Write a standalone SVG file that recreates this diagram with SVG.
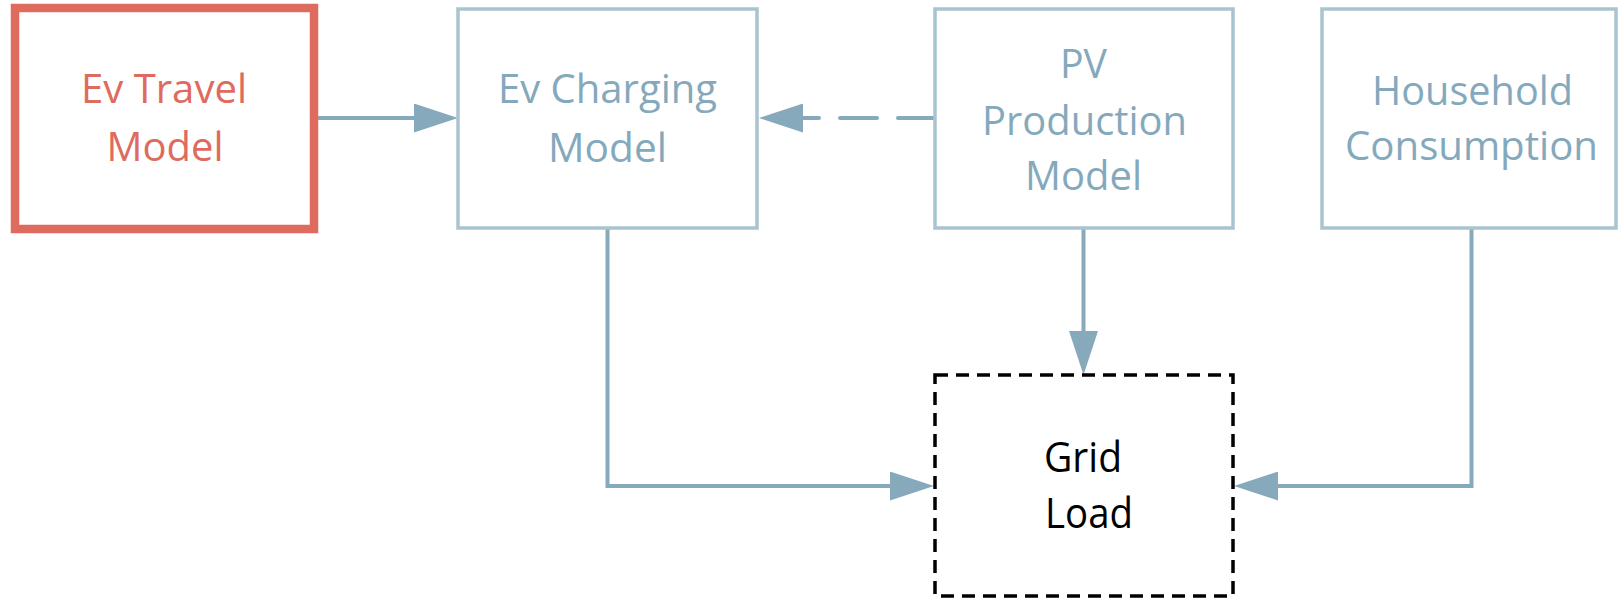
<svg xmlns="http://www.w3.org/2000/svg" width="1620" height="600" viewBox="0 0 1620 600">
  <style>
    .box { fill: #ffffff; stroke: #A9C3D0; stroke-width: 3.5; }
    .red { fill: #ffffff; stroke: #DE6B5E; stroke-width: 8.5; }
    .grid { fill: #ffffff; stroke: #000000; stroke-width: 3.5; stroke-dasharray: 13 8; }
    .t { font-family: "Open Sans", "Liberation Sans", sans-serif; font-size: 41px; fill: #85A9BC; }
    .tr { fill: #DE6B5E; }
    .tk { fill: #000000; font-size: 42px; }
    .conn { fill: none; stroke: #86AABC; stroke-width: 4; }
    .dash { stroke-dasharray: 37 21; stroke-linecap: round; }
  </style>
  <defs>
    <marker id="arrow" viewBox="0 0 44 29" refX="0" refY="14.5" markerWidth="44" markerHeight="29" markerUnits="userSpaceOnUse" orient="auto">
      <path d="M0,0 L44,14.5 L0,29 Z" fill="#86AABC"/>
    </marker>
  </defs>
  <rect width="1620" height="600" fill="#ffffff"/>

  <g id="connectors">
    <path class="conn" d="M314,118 H414" marker-end="url(#arrow)"/>
    <path class="conn dash" d="M935,118 H803" marker-end="url(#arrow)"/>
    <path class="conn" d="M607.5,229 V486 H890" marker-end="url(#arrow)"/>
    <path class="conn" d="M1083.5,229 V331" marker-end="url(#arrow)"/>
    <path class="conn" d="M1471.5,229 V486 H1278" marker-end="url(#arrow)"/>
  </g>

  <g id="ev-travel">
    <rect class="red" x="15" y="8" width="299" height="221"/>
    <text class="t tr" x="164" y="103" text-anchor="middle" textLength="166" lengthAdjust="spacingAndGlyphs">Ev Travel</text>
    <text class="t tr" x="165" y="161" text-anchor="middle" textLength="117" lengthAdjust="spacingAndGlyphs">Model</text>
  </g>

  <g id="ev-charging">
    <rect class="box" x="458" y="9" width="299" height="219"/>
    <text class="t" x="607.5" y="103" text-anchor="middle" textLength="219" lengthAdjust="spacingAndGlyphs">Ev Charging</text>
    <text class="t" x="607.5" y="162" text-anchor="middle" textLength="119" lengthAdjust="spacingAndGlyphs">Model</text>
  </g>

  <g id="pv-production">
    <rect class="box" x="935" y="9" width="298" height="219"/>
    <text class="t" x="1083.5" y="78" text-anchor="middle" textLength="47" lengthAdjust="spacingAndGlyphs">PV</text>
    <text class="t" x="1084.5" y="135" text-anchor="middle" textLength="205" lengthAdjust="spacingAndGlyphs">Production</text>
    <text class="t" x="1083.5" y="190" text-anchor="middle" textLength="117" lengthAdjust="spacingAndGlyphs">Model</text>
  </g>

  <g id="household">
    <rect class="box" x="1322" y="9" width="294" height="219"/>
    <text class="t" x="1472.5" y="105" text-anchor="middle" textLength="201" lengthAdjust="spacingAndGlyphs">Household</text>
    <text class="t" x="1471.5" y="160" text-anchor="middle" textLength="253" lengthAdjust="spacingAndGlyphs">Consumption</text>
  </g>

  <g id="grid-load">
    <rect class="grid" x="935" y="375" width="298" height="221"/>
    <text class="t tk" x="1083" y="472" text-anchor="middle" textLength="78" lengthAdjust="spacingAndGlyphs">Grid</text>
    <text class="t tk" x="1089" y="528" text-anchor="middle" textLength="88" lengthAdjust="spacingAndGlyphs">Load</text>
  </g>
</svg>
